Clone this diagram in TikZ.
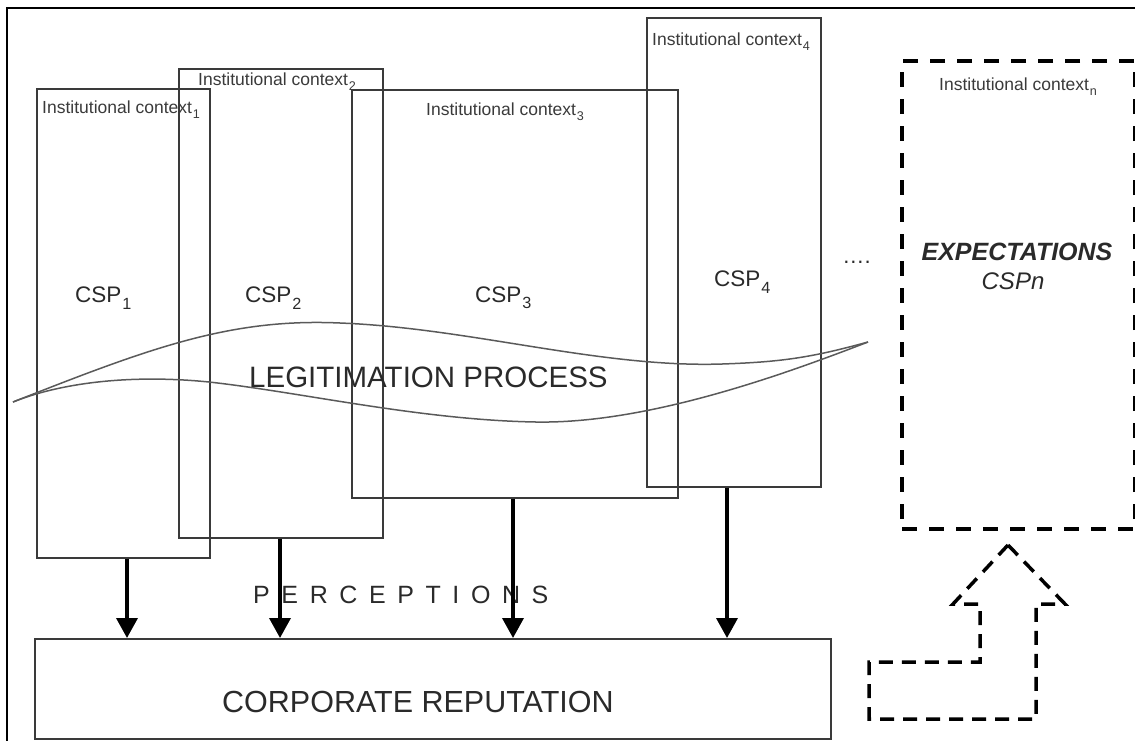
\documentclass[tikz,border=0pt]{standalone}
\usepackage{fontspec}
\setmainfont{Liberation Sans}
\usetikzlibrary{arrows.meta}
\definecolor{ink}{HTML}{2A2A2A}
\definecolor{edge}{HTML}{3A3A3A}
\definecolor{wave}{HTML}{5A5A5A}
% lowered, reduced index after a label
\newcommand{\lowidx}[1]{\kern0.8pt\raisebox{-0.28em}{\scalebox{0.72}{#1}}}
\begin{document}
\begin{tikzpicture}[x=1pt,y=-1pt,
  ctxbox/.style={draw=edge, line width=1.6pt, inner sep=0pt, anchor=north west},
  dashbox/.style={draw=black, line width=4pt, dash pattern=on 15pt off 12pt, inner sep=0pt, anchor=north west},
  ctxlabel/.style={text=edge, font=\fontsize{17.5}{20}\selectfont, inner sep=0pt, anchor=west},
  csplabel/.style={text=ink, font=\fontsize{22.5}{26}\selectfont, inner sep=0pt, anchor=west},
  arr/.style={draw=black, line width=3.6pt, -{Triangle[width=21pt,length=20pt]}},
  band/.style={draw=wave, line width=1.5pt},
  hollowarrow/.style={draw=black, line width=3.5pt, dash pattern=on 14pt off 9pt, line join=miter}]

\useasboundingbox (0,0) rectangle (1135,740);
\clip (0,0) rectangle (1135,740);

% outer frame
\draw[line width=2pt, black] (7,8) rectangle (1150,760);

% institutional context boxes
\node[ctxbox, minimum width=173pt, minimum height=469pt] (c1) at (36,88) {};
\node[ctxbox, minimum width=204pt, minimum height=469pt] (c2) at (178,68) {};
\node[ctxbox, minimum width=326pt, minimum height=408pt] (c3) at (351,89) {};
\node[ctxbox, minimum width=174pt, minimum height=469pt] (c4) at (646,17) {};
\node[dashbox, minimum width=233pt, minimum height=468pt] (cn) at (900,59) {};

% corporate reputation box
\node[ctxbox, minimum width=796pt, minimum height=100pt] (corp) at (34,638) {};

% box labels
\node[ctxlabel] (l1) at (42,110) {Institutional context\lowidx{1}};
\node[ctxlabel] (l2) at (198,82) {Institutional context\lowidx{2}};
\node[ctxlabel] (l3) at (426,112) {Institutional context\lowidx{3}};
\node[ctxlabel] (l4) at (652,42) {Institutional context\lowidx{4}};
\node[ctxlabel] (ln) at (939,87) {Institutional context\lowidx{n}};

\node[csplabel] (s1) at (75,298) {CSP\lowidx{1}};
\node[csplabel] (s2) at (245,298) {CSP\lowidx{2}};
\node[csplabel] (s3) at (475,298) {CSP\lowidx{3}};
\node[csplabel] (s4) at (714,282) {CSP\lowidx{4}};

\node[text=ink, font=\fontsize{22}{26}\selectfont, inner sep=0pt] (dots) at (857,262) {.\kern1pt.\kern1pt.\kern1pt.};

\node[text=ink, font=\fontsize{25}{30}\selectfont\bfseries\itshape, inner sep=0pt] (expect) at (1017,252) {EXPECTATIONS};
\node[text=ink, font=\fontsize{24}{28}\selectfont\itshape, inner sep=0pt] (cspn) at (1013,281) {CSPn};

% legitimation band
\draw[band] (13,402) .. controls (150,348) and (230,318) .. (340,323)
  .. controls (470,328) and (600,368) .. (722,364)
  .. controls (780,362) and (810,358) .. (868,342);
\draw[band] (13,402) .. controls (60,383) and (130,374) .. (209,382)
  .. controls (300,392) and (420,420) .. (536,422)
  .. controls (650,424) and (790,372) .. (868,342);
\node[text=ink, font=\fontsize{29.5}{34}\selectfont, inner sep=0pt, anchor=west] (legit) at (249,377) {LEGITIMATION PROCESS};

% perceptions
\node[text=ink, font=\fontsize{25}{30}\selectfont, inner sep=0pt, anchor=west] (perc) at (253,595)
  {P\kern11.6pt E\kern11.6pt R\kern11.6pt C\kern11.6pt E\kern11.6pt P\kern11.6pt T\kern11.6pt I\kern11.6pt O\kern11.6pt N\kern11.6pt S};

\node[text=ink, font=\fontsize{30.5}{35}\selectfont, inner sep=0pt, anchor=west] (corptext) at (222,702) {CORPORATE REPUTATION};

% arrows into corporate reputation
\coordinate (x1) at (127,0);
\coordinate (x2) at (280,0);
\coordinate (x3) at (513,0);
\coordinate (x4) at (727,0);
\draw[arr] (x1 |- c1.south) -- (x1 |- corp.north);
\draw[arr] (x2 |- c2.south) -- (x2 |- corp.north);
\draw[arr] (x3 |- c3.south) -- (x3 |- corp.north);
\draw[arr] (x4 |- c4.south) -- (x4 |- corp.north);

% hollow dashed arrow pointing up to the expectations box
\draw[hollowarrow] (1008,545) -- (1065,604) -- (1036,604) -- (1036,719)
  -- (869,719) -- (869,662) -- (980,662) -- (980,604) -- (953,604) -- cycle;

\end{tikzpicture}
\end{document}
